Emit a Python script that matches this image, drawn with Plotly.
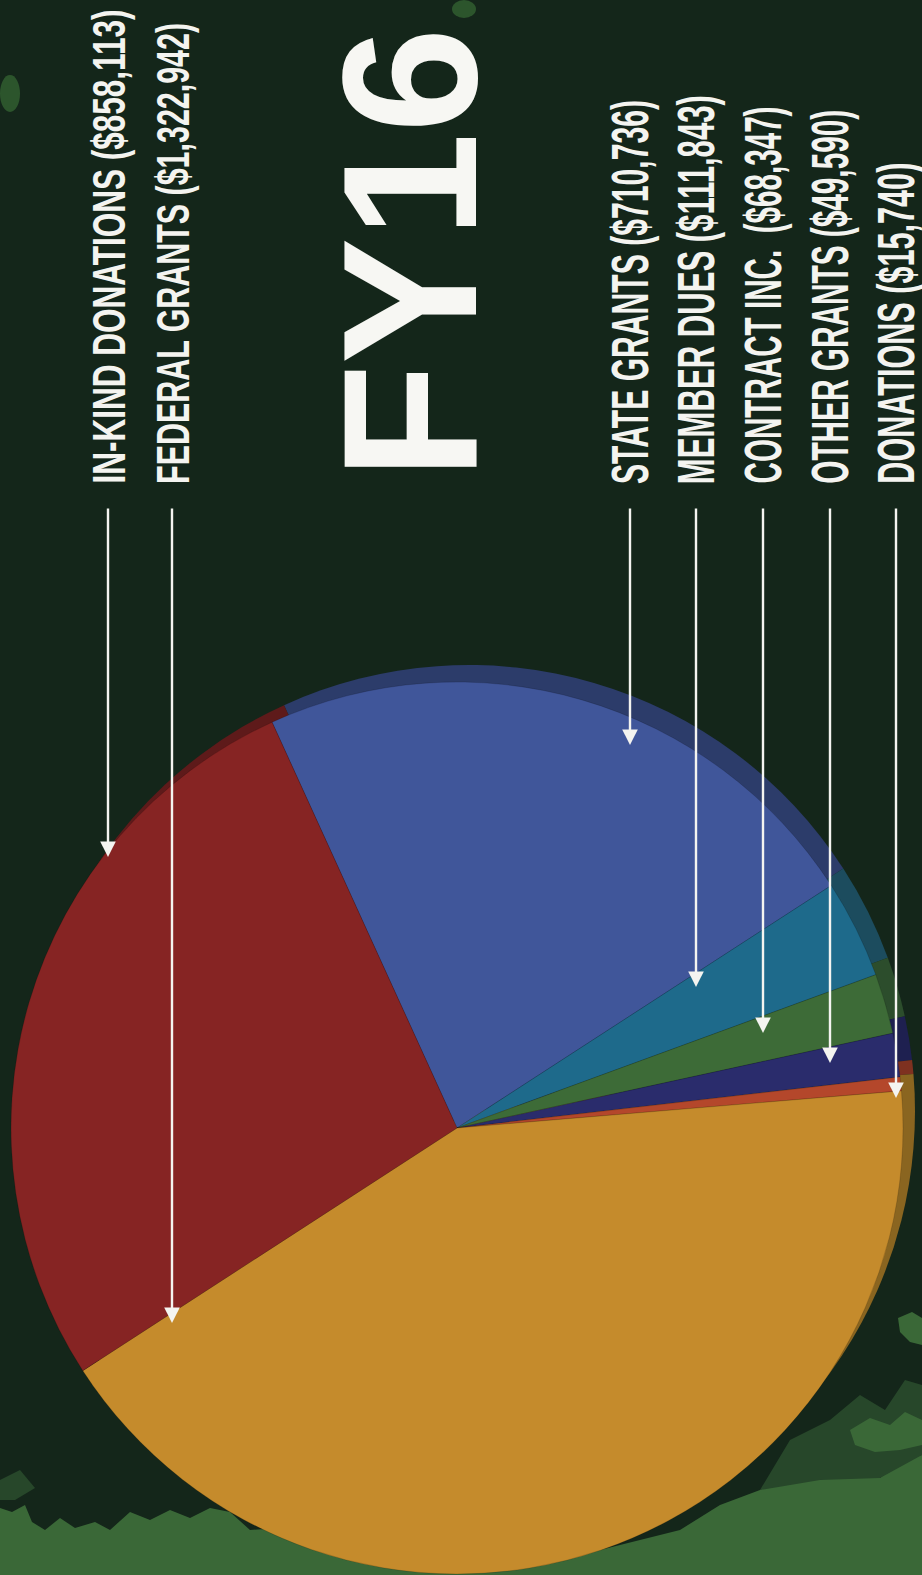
import json
import plotly.graph_objects as go

# ---- data ----
labels = ["STATE GRANTS", "MEMBER DUES", "CONTRACT INC.", "OTHER GRANTS",
          "DONATIONS", "FEDERAL GRANTS", "IN-KIND DONATIONS"]
values = [710736, 111843, 68347, 49590, 15740, 1322942, 858113]
face_colors = ["#40569a", "#1e6a8b", "#3d6b37", "#2a2c6c", "#b4472b", "#c58b2c", "#862423"]
rim_colors = ["#2c3c6a", "#1c4c5e", "#2c4d2c", "#1e2050", "#7e3120", "#8a6520", "#5e1a1a"]

# label texts (as printed), arrow x-position and arrow tip y-position
label_texts = ["IN-KIND DONATIONS ($858,113)", "FEDERAL GRANTS ($1,322,942)",
               "STATE GRANTS ($710,736)", "MEMBER DUES ($111,843)",
               "CONTRACT INC.  ($68,347)", "OTHER GRANTS ($49,590)",
               "DONATIONS ($15,740)"]
label_x = [108, 172, 630, 696, 763, 830, 896]
tip_y = [857, 1323, 745, 987, 1033, 1063, 1098]
# extent of each rotated label along the page (top, bottom)
label_top = [10, 23, 100, 95, 107, 110, 163]
label_bottom = [484, 484, 484, 484, 484, 484, 484]
label_size = [47, 47, 51, 51, 51, 51, 51]

title_text = "FY16"
title_top, title_bottom, title_x = 28, 480, 409

W, H = 922, 1575
BG = "#14261a"

fig = go.Figure()

# invisible cartesian canvas in pixel units
fig.add_trace(go.Scatter(x=[0, W], y=[0, H], mode="markers",
                         marker=dict(opacity=0), hoverinfo="skip", showlegend=False))

def dom(cx, cy, r):
    y0 = max(0.0, (H - cy - r) / H)
    y1 = min(1.0, (H - cy + r) / H)
    return dict(x=[(cx - r) / W, (cx + r) / W], y=[y0, y1])

rot = -24.5
# back disc (3D rim)
fig.add_trace(go.Pie(labels=labels, values=values, sort=False, direction="clockwise",
                     rotation=rot, marker=dict(colors=rim_colors, line=dict(width=0)),
                     textinfo="none", hoverinfo="skip", showlegend=False,
                     domain=dom(469, 1111, 446)))
# face
fig.add_trace(go.Pie(labels=labels, values=values, sort=False, direction="clockwise",
                     rotation=rot, marker=dict(colors=face_colors,
                                               line=dict(width=0.6, color="rgba(0,0,0,0.25)")),
                     textinfo="none", showlegend=False,
                     domain=dom(457, 1128, 446)))

annotations = []
squeeze = {}
for t, x, ty, top, bot, fs in zip(label_texts, label_x, tip_y, label_top, label_bottom, label_size):
    squeeze[len(annotations)] = bot - top
    annotations.append(dict(x=x, y=(top + bot) / 2, xref="x", yref="y", text=t, showarrow=False,
                            textangle=-90, xanchor="center", yanchor="middle",
                            font=dict(family="Liberation Sans, Arial, sans-serif", weight="bold",
                                      size=fs, color="#f4f4f0")))
    annotations.append(dict(x=x, y=ty, xref="x", yref="y", ax=x, ay=507,
                            axref="x", ayref="y", text="", showarrow=True,
                            arrowhead=2, arrowsize=1.3, arrowwidth=2.4,
                            arrowcolor="#f4f4f0"))

squeeze[len(annotations)] = title_bottom - title_top
annotations.append(dict(x=title_x, y=(title_top + title_bottom) / 2, xref="x", yref="y",
                        text=title_text, showarrow=False, textangle=-90,
                        xanchor="center", yanchor="middle",
                        font=dict(family="Liberation Sans, Arial, sans-serif", weight="bold",
                                  size=192, color="#f7f7f3")))

# textured lighter-green patches of the background
LG = "#3a6837"
MG = "#27472a"
shapes = [
    dict(type="path", xref="x", yref="y", layer="below", line=dict(width=0), fillcolor=LG,
         path="M0,1575 L0,1508 L12,1512 L25,1505 L32,1522 L45,1530 L60,1518 L75,1528 "
              "L95,1522 L110,1530 L130,1512 L150,1520 L170,1510 L190,1518 L210,1508 "
              "L230,1512 L250,1530 L280,1528 L320,1545 L600,1550 L680,1530 L720,1505 "
              "L760,1490 L790,1475 L820,1480 L850,1470 L880,1478 L900,1460 L922,1455 "
              "L922,1575 Z"),
    dict(type="path", xref="x", yref="y", layer="below", line=dict(width=0), fillcolor=MG,
         path="M760,1490 L790,1440 L830,1420 L860,1395 L885,1410 L905,1380 L922,1385 "
              "L922,1455 L880,1478 L820,1480 Z"),
    dict(type="path", xref="x", yref="y", layer="below", line=dict(width=0), fillcolor=LG,
         path="M850,1430 L870,1418 L890,1425 L905,1412 L922,1420 L922,1445 L900,1450 "
              "L875,1452 L855,1445 Z"),
    dict(type="path", xref="x", yref="y", layer="below", line=dict(width=0), fillcolor=LG,
         path="M898,1318 L912,1312 L922,1318 L922,1345 L910,1342 L900,1332 Z"),
    dict(type="path", xref="x", yref="y", layer="below", line=dict(width=0), fillcolor=MG,
         path="M0,1480 L20,1470 L35,1488 L15,1500 L0,1500 Z"),
    dict(type="circle", xref="x", yref="y", layer="below", line=dict(width=0),
         fillcolor="#2c552c", x0=0, x1=20, y0=75, y1=112),
    dict(type="circle", xref="x", yref="y", layer="below", line=dict(width=0),
         fillcolor="#2c552c", x0=452, x1=476, y0=0, y1=18),
]

fig.update_layout(
    width=W, height=H, margin=dict(l=0, r=0, t=0, b=0),
    paper_bgcolor=BG, plot_bgcolor=BG,
    xaxis=dict(range=[0, W], visible=False, fixedrange=True),
    yaxis=dict(range=[H, 0], visible=False, fixedrange=True),
    annotations=annotations, shapes=shapes, showlegend=False,
)

# page without the default body margin; condense the label lettering
# (the original uses a narrow typeface)
post = """
document.documentElement.style.margin = '0';
document.body.style.margin = '0';
document.body.style.background = '%s';
var gd = document.getElementById('{plot_id}');
var sq = %s;
function squeezeText() {
  var groups = gd.querySelectorAll('g.annotation');
  groups.forEach(function(g) {
    var idx = g.getAttribute('data-index');
    if (sq.hasOwnProperty(idx)) {
      var t = g.querySelector('text.annotation-text');
      if (t) {
        t.setAttribute('textLength', sq[idx]);
        t.setAttribute('lengthAdjust', 'spacingAndGlyphs');
      }
    }
  });
}
squeezeText();
gd.on('plotly_afterplot', squeezeText);
""" % (BG, json.dumps({str(k): v for k, v in squeeze.items()}))

fig.write_html("out.html", post_script=post, config={"displayModeBar": False})
